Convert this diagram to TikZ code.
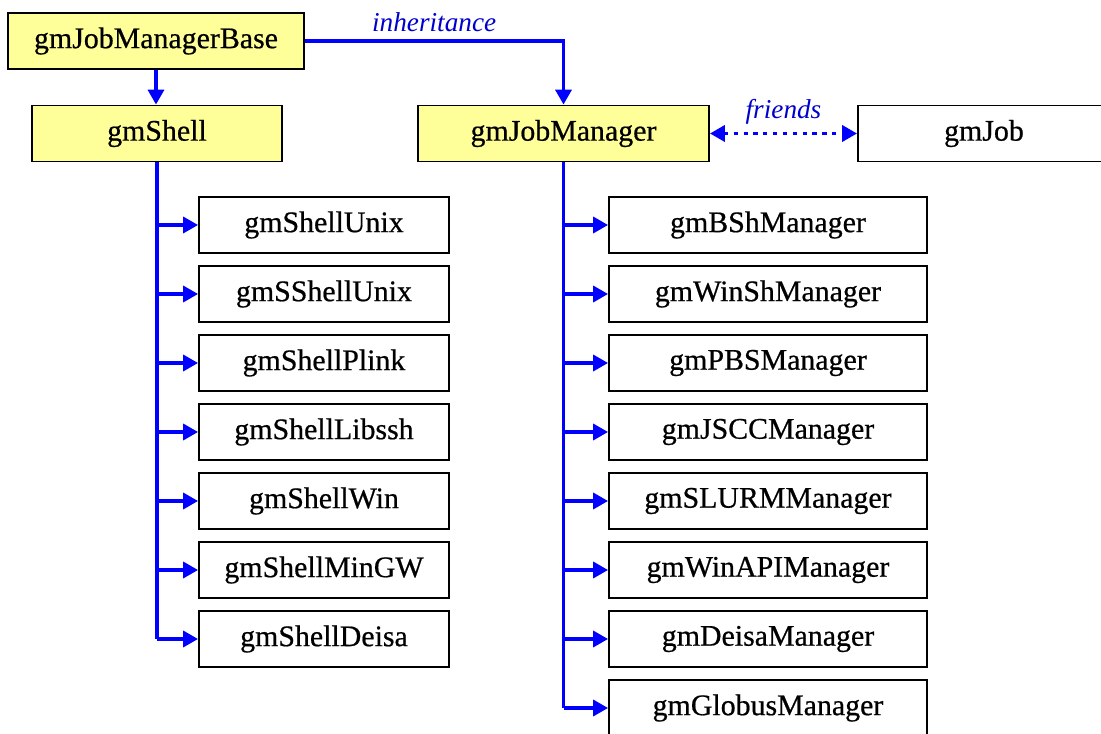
\documentclass[tikz,border=0pt]{standalone}
\usepackage{fontspec}
\setmainfont{Liberation Serif}
\newfontfamily\boxfont{Liberation Serif}[BoldFont=Liberation Serif, BoldFeatures={FakeBold=0.6}]
\usetikzlibrary{arrows.meta}
\definecolor{boxyellow}{RGB}{255,255,153}
\definecolor{linkblue}{RGB}{0,0,255}
\definecolor{labelblue}{RGB}{0,0,204}
\tikzset{
  cls/.style={draw=black, line width=1pt, minimum height=1.12cm, inner sep=0pt, font=\fontsize{17}{20}\boxfont\bfseries},
  parent/.style={cls, fill=boxyellow},
  child/.style={cls, fill=white},
  link/.style={draw=linkblue, line width=2.2pt, -{Triangle[length=8.5pt,width=9pt]}},
  trunk/.style={draw=linkblue, line width=2.2pt},
  lbl/.style={text=labelblue, font=\fontsize{15.5}{18}\selectfont\itshape}
}

\begin{document}
\begin{tikzpicture}
\useasboundingbox (0,0) rectangle (22.02,14.66);
\path (3.12,13.84) node[parent, minimum width=5.92cm] (base) {gmJobManagerBase}
      (3.14,11.99) node[parent, minimum width=5.0cm] (shell) {gmShell}
      (11.27,11.99) node[parent, minimum width=5.82cm] (jm) {gmJobManager}
      (19.68,11.99) node[child, minimum width=5.04cm] (job) {gmJob};

\path (6.48,10.16) node[child, minimum width=5.0cm] (sh1) {gmShellUnix}
      (6.48,8.78) node[child, minimum width=5.0cm] (sh2) {gmSShellUnix}
      (6.48,7.40) node[child, minimum width=5.0cm] (sh3) {gmShellPlink}
      (6.48,6.02) node[child, minimum width=5.0cm] (sh4) {gmShellLibssh}
      (6.48,4.64) node[child, minimum width=5.0cm] (sh5) {gmShellWin}
      (6.48,3.26) node[child, minimum width=5.0cm] (sh6) {gmShellMinGW}
      (6.48,1.88) node[child, minimum width=5.0cm] (sh7) {gmShellDeisa};

\path (15.36,10.16) node[child, minimum width=6.36cm] (jm1) {gmBShManager}
      (15.36,8.78) node[child, minimum width=6.36cm] (jm2) {gmWinShManager}
      (15.36,7.40) node[child, minimum width=6.36cm] (jm3) {gmPBSManager}
      (15.36,6.02) node[child, minimum width=6.36cm] (jm4) {gmJSCCManager}
      (15.36,4.64) node[child, minimum width=6.36cm] (jm5) {gmSLURMManager}
      (15.36,3.26) node[child, minimum width=6.36cm] (jm6) {gmWinAPIManager}
      (15.36,1.88) node[child, minimum width=6.36cm] (jm7) {gmDeisaManager}
      (15.36,0.50) node[child, minimum width=6.36cm] (jm8) {gmGlobusManager};

\draw[link] (base) -- (base |- shell.north);
\draw[link] (base.east) -| (jm.north) node[lbl, pos=0.25, above=1pt] {inheritance};
\draw[draw=linkblue, line width=2.2pt, dash pattern=on 2.4pt off 3.2pt, {Triangle[length=8.5pt,width=9pt]}-{Triangle[length=8.5pt,width=9pt]}]
  (jm.east) -- (job.west) node[lbl, midway, above=1pt] {friends};

\draw[trunk] (shell.south) -- (shell.south |- sh7.west);
\draw[link] (shell.south |- sh1.west) -- (sh1.west);
\draw[link] (shell.south |- sh2.west) -- (sh2.west);
\draw[link] (shell.south |- sh3.west) -- (sh3.west);
\draw[link] (shell.south |- sh4.west) -- (sh4.west);
\draw[link] (shell.south |- sh5.west) -- (sh5.west);
\draw[link] (shell.south |- sh6.west) -- (sh6.west);
\draw[link] (shell.south |- sh7.west) -- (sh7.west);

\draw[trunk] (jm.south) -- (jm.south |- jm8.west);
\draw[link] (jm.south |- jm1.west) -- (jm1.west);
\draw[link] (jm.south |- jm2.west) -- (jm2.west);
\draw[link] (jm.south |- jm3.west) -- (jm3.west);
\draw[link] (jm.south |- jm4.west) -- (jm4.west);
\draw[link] (jm.south |- jm5.west) -- (jm5.west);
\draw[link] (jm.south |- jm6.west) -- (jm6.west);
\draw[link] (jm.south |- jm7.west) -- (jm7.west);
\draw[link] (jm.south |- jm8.west) -- (jm8.west);
\end{tikzpicture}
\end{document}
